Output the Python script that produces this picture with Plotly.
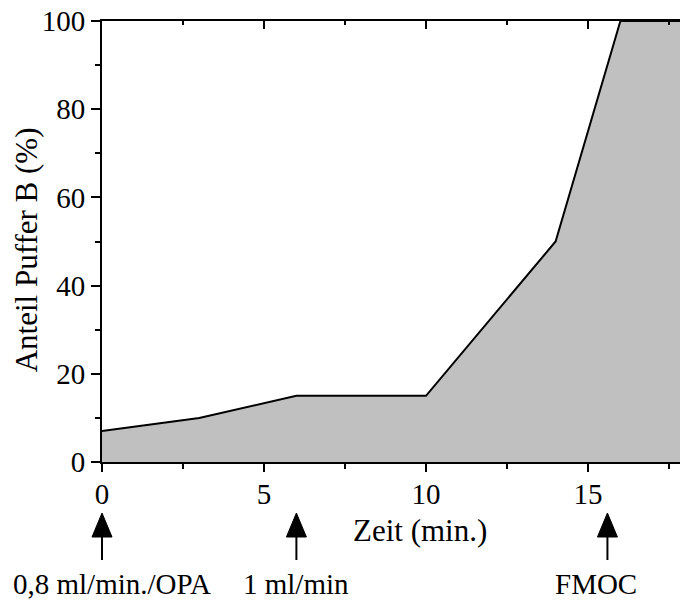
import plotly.graph_objects as go

# Data
zeit = [0, 3, 6, 10, 14, 16, 20]
anteil_b = [7, 10, 15, 15, 50, 100, 100]

arrow_x = [0, 6, 15.6]
label_x = [0.31, 5.99, 15.25]
label_text = ["0,8 ml/min./OPA", "1 ml/min", "FMOC"]

FONT = "Liberation Serif"
FS = 29
FT = 31

XMAX = 17.84

fig = go.Figure()
fig.add_trace(go.Scatter(
    x=zeit, y=anteil_b, mode="lines", fill="tozeroy",
    fillcolor="#c0c0c0", line=dict(color="black", width=2),
    showlegend=False, hoverinfo="skip"))
# invisible trace for top axis
fig.add_trace(go.Scatter(x=[0], y=[0], xaxis="x2", mode="markers",
                         marker=dict(opacity=0), showlegend=False, hoverinfo="skip"))

fig.update_layout(
    width=680, height=602,
    margin=dict(l=102, r=0, t=21, b=140),
    plot_bgcolor="white", paper_bgcolor="white",
    font=dict(family=FONT, size=FS, color="black"),
    xaxis=dict(range=[0, XMAX], showgrid=False, zeroline=False,
               showline=True, linecolor="black", linewidth=2,
               ticks="outside", ticklen=8, tickwidth=2, tickcolor="black",
               tick0=0, dtick=5, ticklabelstandoff=-3,
               minor=dict(ticks="outside", ticklen=5, tickwidth=2, dtick=2.5, tick0=0, tickcolor="black"),
               tickfont=dict(size=FS, family=FONT)),
    xaxis2=dict(range=[0, XMAX], overlaying="x", side="top", showgrid=False,
                zeroline=False, showline=True, linecolor="black", linewidth=2,
                ticks="inside", ticklen=8, tickwidth=2, tickcolor="black",
                tick0=0, dtick=5, showticklabels=False,
                minor=dict(ticks="inside", ticklen=4, tickwidth=2, dtick=2.5, tick0=0, tickcolor="black")),
    yaxis=dict(range=[0, 100], showgrid=False, zeroline=False,
               showline=True, linecolor="black", linewidth=2,
               ticks="outside", ticklen=9, tickwidth=2, tickcolor="black",
               tick0=0, dtick=20,
               minor=dict(ticks="outside", ticklen=5, tickwidth=2, dtick=10, tick0=0, tickcolor="black"),
               tickfont=dict(size=FS, family=FONT)),
)

def py(p):
    return (462 - p) / 441

def px(xv):
    return xv / XMAX

# axis titles as annotations
fig.add_annotation(text="Zeit (min.)", x=9.8, xref="x", y=py(530), yref="paper",
                   showarrow=False, font=dict(size=FT, family=FONT), xanchor="center", yanchor="middle")
fig.add_annotation(text="Anteil Puffer B (%)", x=-0.131, xref="paper", y=py(250), yref="paper",
                   textangle=-90, showarrow=False, font=dict(size=FT, family=FONT),
                   xanchor="center", yanchor="middle")

half = 10 / 578
for ax_, lx, lt in zip(arrow_x, label_x, label_text):
    xp = px(ax_)
    fig.add_shape(type="line", xref="paper", yref="paper", x0=xp, x1=xp,
                  y0=py(560), y1=py(530), line=dict(color="black", width=2))
    fig.add_shape(type="path", xref="paper", yref="paper",
                  path=f"M {xp - half} {py(537)} L {xp + half} {py(537)} L {xp} {py(513)} Z",
                  fillcolor="black", line=dict(color="black", width=1))
    fig.add_annotation(text=lt, x=lx, xref="x", y=py(584), yref="paper", showarrow=False,
                       font=dict(size=FS, family=FONT), xanchor="center", yanchor="middle")

fig.write_html("out.html")
